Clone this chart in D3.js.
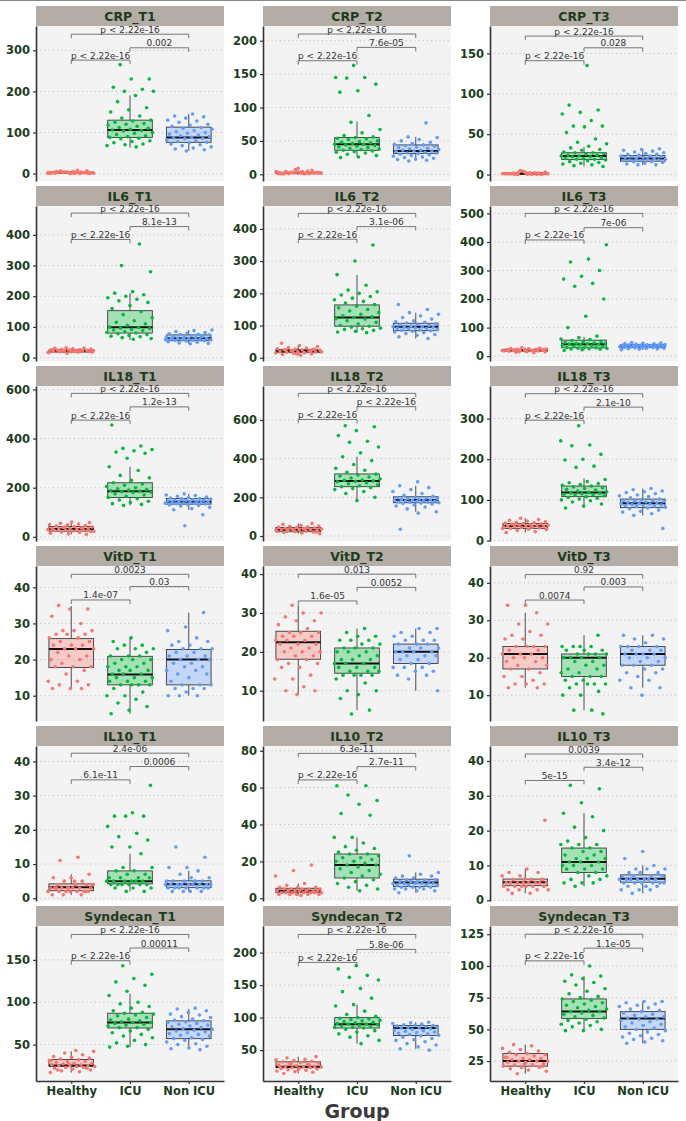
<!DOCTYPE html>
<html><head><meta charset="utf-8">
<script src="https://cdn.jsdelivr.net/npm/d3@7"></script>
<style>body{margin:0;background:#fff}svg{display:block}</style>
</head><body>
<script>
const panelNames = ["CRP_T1","CRP_T2","CRP_T3","IL6_T1","IL6_T2","IL6_T3","IL18_T1","IL18_T2","IL18_T3",
  "VitD_T1","VitD_T2","VitD_T3","IL10_T1","IL10_T2","IL10_T3","Syndecan_T1","Syndecan_T2","Syndecan_T3"];
const groups = ["Healthy","ICU","Non ICU"];
const yDomains = [[-18,359],[-10,222],[-8,184],[-11,494],[-10,471],[-17,526],[-17,614],[-26,776],[-1,380],
  [3,45.9],[2.2,42.1],[3.1,44.5],[-0.8,44.5],[-1.5,82.6],[-0.2,44.3],[7,190],[2.5,241],[9.3,131.5]];
const yTicks = [[0,100,200,300],[0,50,100,150,200],[0,50,100,150],[0,100,200,300,400],[0,100,200,300,400],[0,100,200,300,400,500],
  [0,200,400,600],[0,200,400,600],[0,100,200,300],[10,20,30,40],[10,20,30,40],[10,20,30,40],
  [0,10,20,30,40],[0,20,40,60,80],[0,10,20,30,40],[50,100,150],[50,100,150,200],[25,50,75,100,125]];
// [lower whisker, q1, median, q3, upper whisker] for Healthy, ICU, Non ICU
const boxHealthy = [[0,1,2,3,6],[0,1,2,3,6],[0,0.5,1,2,4],[14,18,22,25,31],[8,16,21,26,38],[12,18,21,24,30],
  [10,23,32,42,60],[12,22,32,44,65],[20,30,36,42,55],[12,17.8,22.9,25.8,34.8],[9,18.1,22.5,25.3,32],[12,17,21,23,32],
  [1,2.2,3.2,4.2,7],[1.5,3,4,5.4,8],[2,4.2,5.2,6.1,9],[17,24.5,25.3,32.4,42],[14,23,24.5,32,40],[15,21,25,31,38]];
const boxICU = [[63,88,106,130,190],[26,36,45,55,79],[10,18.5,23,27,34],[58,80,99,153,210],[78,98,125,164,257],[20,29,42,56,67],
  [128,160,186,220,285],[183,255,285,321,410],[80,108,118,134,153],[5,13,15.9,20.9,26],[5,14.5,17,21,26],[6,15,20,21,26],
  [2,4.2,5,8,13],[4,11,18,24,33],[4,8,11,15,25],[47,69.6,76,87,110],[60,84,90,100,120],[49,58.5,64,74,92]];
const boxNonICU = [[55,76,88,113,145],[20,31,35,44,56],[12,16.5,20,23.5,32],[45,55,63,74,90],[60,84,96,107,140],[22,30,35,40,48],
  [110,133,143,156,175],[125,172,186,203,260],[62,81,92,102,128],[10,13,20,22.8,33],[10,17,20,22,26],[12,18,21,23,26],
  [2,3.1,4.1,5.1,8],[3,6.3,8.5,10.3,14],[2,5.2,6.2,7.3,10],[45,57,68,78,92],[52,72.5,84,88,93],[39,50,58.5,64,72]];
const ptsHealthy = [
 [1,2,3,1,0,2,4,3,2,1,5,2,3,1,2,6,0,1,3,2,4,1,2,3,7,2,1,0,3,2,5,1,2,4,3,8],
 [1,2,3,2,1,4,2,3,1,5,2,2,3,1,6,2,4,1,3,2,9,2,1,3,2,4,1,2,7,3,2,1,3,2],
 [0,1,2,1,0,3,1,2,1,0,4,1,2,1,3,0,1,2,5,1,0,2,1,3,1,2,0,1,2,1],
 [14,16,18,19,20,21,21,22,22,23,23,24,24,25,25,26,27,28,29,30,31,32,17,19,20,22,24,26,21,23,18,20],
 [8,10,12,14,15,16,17,18,19,20,21,22,23,24,25,26,27,28,30,32,35,38,45,20,22,18,16,24,26,12],
 [12,14,15,16,17,18,19,20,20,21,21,22,22,23,24,25,26,27,28,30,18,20,22,24,19,21,23,16],
 [10,12,15,18,20,22,24,25,26,28,30,31,32,33,34,35,36,38,40,42,44,46,48,50,52,55,58,60,28,36,40,22],
 [12,15,18,20,22,24,26,28,30,32,33,34,35,36,38,40,42,44,46,48,50,52,55,60,65,28,30,38,25,20],
 [20,22,25,27,28,30,31,32,33,34,35,35,36,36,37,38,38,39,40,41,42,43,44,45,46,48,50,52,55,30,33,40],
 [35,34,34,32,30,28,28,28,27,27,27,26,26,25,25,24,24,24,23,23,23,22,21,21,20,20,19,18,18,18,17,16,14,14,13,13,12,12,12],
 [32,30,30,29,28,28,27,26,25,25,25,24,24,24,23,23,23,22,22,22,21,21,20,20,20,19,19,18,18,17,17,16,16,14,13,13,11,10,10,9],
 [34,34,32,29,29,27,26,26,25,25,23,23,23,23,22,22,21,21,21,20,20,20,19,19,18,18,17,17,16,15,15,14,13,13,13,12,12],
 [12,11,7,6,6,5,5,4,4,4,4,3,3,3,3,3,3,3,2,2,2,2,2,2,2,1,1,1,4,5,3,2,3],
 [18,15,12,8,7,6,6,6,5,5,5,5,5,4,4,4,4,4,4,4,3,3,3,3,3,3,3,2,2,2,2,2,1.5],
 [23,9,8,8,7,7,6,6,6,6,5,5,5,5,5,5,5,4,4,4,4,4,4,3,3,3,3,2,2,6,5],
 [17,18,19,20,21,22,23,23,24,24,25,25,25,26,26,27,28,28,29,30,30,31,32,33,34,35,36,38,40,42,43,20,22,27,31],
 [14,16,17,18,19,20,21,22,22,23,23,24,24,25,25,26,27,28,29,30,31,32,33,34,35,36,38,40,20,24,27,29],
 [15,17,18,19,20,20,21,22,22,23,24,24,25,25,25,26,26,27,27,28,29,30,30,31,32,33,34,35,37,38,21,23,28]];
const ptsICU = [
 [265,230,230,210,205,200,200,190,175,160,155,150,140,135,130,128,125,122,120,118,115,112,110,108,106,105,104,100,98,95,92,90,88,86,85,80,78,75,72,70,68,65],
 [163,145,145,144,135,125,123,88,78,67,62,58,56,55,54,53,52,50,49,48,47,46,45,45,44,43,42,41,40,39,38,37,36,35,34,33,32,30,28,26,25],
 [135,86,80,77,75,67,60,60,59,52,44,40,38,35,33,31,30,28,27,27,26,25,24,24,23,23,22,22,21,20,20,19,19,18,17,16,15,14,13,12,11,10],
 [370,300,280,215,210,205,200,195,190,185,180,170,160,150,140,130,120,115,110,105,100,98,96,95,92,90,88,85,82,80,78,75,72,70,68,65,62,60],
 [350,300,258,225,210,205,200,195,190,185,180,175,170,165,160,155,150,145,140,135,130,127,125,122,120,115,110,105,100,98,95,92,90,88,85,82,80,78],
 [390,340,330,300,280,270,255,245,200,140,100,70,65,60,58,55,52,50,48,46,45,44,43,42,41,40,38,36,35,34,32,30,29,28,27,26,25,24,22,20],
 [455,370,360,355,350,345,340,320,285,270,250,240,230,220,215,210,205,200,195,192,190,188,186,184,182,180,175,170,165,160,155,150,145,140,135,132,128],
 [570,565,545,520,490,485,460,430,410,390,370,350,340,330,320,315,310,305,300,295,290,288,285,282,280,275,270,265,260,255,250,245,240,230,220,200,183],
 [282,245,235,233,212,200,198,183,180,150,145,142,140,138,136,134,132,130,128,126,124,122,120,118,117,116,115,114,113,112,110,108,106,104,102,100,98,95,90,85,80],
 [26,25,24,24,23,23,23,22,21,21,21,20,20,20,19,19,18,18,18,17,17,17,16,16,16,15,15,15,14,14,14,13,13,13,13,12,11,10,10,9,8,7,6,5],
 [26,25,24,24,23,23,23,22,22,21,21,21,20,20,20,19,19,18,18,18,17,17,17,16,16,16,15,15,15,14,14,14,14,13,12,10,10,9,8,5,4],
 [26,23,23,23,23,22,22,22,21,21,21,21,20,20,20,20,19,19,18,18,17,17,16,16,15,15,15,14,14,13,13,13,13,12,11,10,10,6,6,5],
 [33,25,24,24,24,21,19,18,17,15,15,13,9,9,8,8,7,7,6,6,6,6,5,5,5,5,5,5,4,4,4,4,4,4,3,3,3,2,2],
 [61,61,56,53,51,46,45,33,33,30,28,27,26,25,24,24,23,22,22,21,20,20,19,18,18,17,16,15,14,13,12,11,10,9,8,7,6,5,4],
 [33,32,28,25,24,21,20,18,17,16,16,16,15,15,14,14,13,13,12,12,12,11,11,11,10,10,10,9,9,9,8,8,7,7,6,6,5,5,5,4],
 [143,133,128,124,120,113,108,100,98,95,93,90,88,87,86,85,84,82,80,79,78,77,76,76,75,74,73,72,70,70,68,66,64,62,60,58,55,52,50,48,47],
 [180,175,165,162,158,145,140,130,120,118,110,105,102,100,99,98,97,96,95,94,93,92,91,90,90,89,88,87,86,85,85,84,82,80,78,75,72,70,65,60],
 [100,93,92,90,88,87,85,82,80,78,76,75,74,73,72,71,70,69,68,67,66,65,64,64,63,62,61,60,59,58,57,56,55,54,53,52,50,49,49]];
const ptsNonICU = [
 [145,140,138,135,130,128,125,120,118,115,112,110,108,105,102,100,98,96,94,92,90,88,87,86,85,82,80,78,76,75,72,70,68,65,62,60,58,55],
 [77,56,55,52,50,48,46,45,44,43,42,41,40,39,38,37,36,36,35,35,34,33,32,32,31,30,29,28,27,26,25,24,23,22,21,20],
 [32,31,30,29,28,27,26,25,25,24,23,23,22,22,21,21,20,20,19,19,18,18,17,17,16,16,15,14,13,12,12],
 [90,88,85,82,80,78,76,75,74,72,70,68,67,66,65,64,63,62,61,60,59,58,57,56,55,54,52,50,48,46,45,65,70,62,58],
 [165,150,140,135,130,125,120,115,112,110,108,106,104,102,100,98,97,96,95,94,93,92,91,90,88,86,85,84,82,80,78,75,72,70,65,60],
 [48,46,45,44,43,42,41,40,40,39,38,38,37,36,36,35,35,34,34,33,33,32,32,31,30,30,29,28,27,26,25,24,22],
 [175,170,168,165,162,160,158,156,155,154,152,150,149,148,146,145,144,143,142,141,140,138,137,136,135,134,132,130,128,125,120,115,110,90,45],
 [280,260,250,240,230,220,210,205,200,198,196,194,192,190,188,186,185,184,183,182,180,178,176,175,174,172,170,168,165,160,155,150,140,125,118,35],
 [128,125,122,120,118,115,112,110,108,105,102,100,99,98,97,96,95,94,93,92,91,90,89,88,87,86,85,84,82,80,78,75,72,70,66,62,30],
 [33,29,28,26,25,25,24,24,23,23,23,22,22,21,21,21,20,20,20,19,19,18,18,17,17,16,16,15,14,13,13,13,12,12,12,11,10,10,10],
 [26,26,25,25,24,24,23,23,23,22,22,22,21,21,21,20,20,20,20,19,19,19,18,18,17,17,16,16,16,15,15,14,14,13,10],
 [26,26,25,25,24,23,23,23,23,22,22,22,21,21,21,21,20,20,20,19,19,18,18,18,17,17,16,16,15,14,14,12,12,10],
 [15,12,9,9,8,7,6,6,5,5,5,5,5,4,4,4,4,4,4,4,4,3,3,3,3,3,3,3,2,2,2,2,4,5],
 [23,14,13,12,12,11,11,10,10,10,9,9,9,9,8,8,8,8,8,7,7,7,7,6,6,6,6,5,5,5,4,4,3],
 [14,12,10,9,9,9,8,8,8,7,7,7,7,6,6,6,6,6,6,6,5,5,5,5,5,5,4,4,4,3,3,3,2],
 [93,92,90,88,86,85,83,82,80,79,78,77,76,75,74,73,72,71,70,69,68,67,66,65,64,63,62,61,60,58,57,56,55,53,51,50,48,46,45,44],
 [93,92,91,90,89,88,88,87,86,85,85,84,84,83,82,81,80,79,78,77,76,75,74,73,72,70,68,66,65,63,60,58,55,52,50],
 [72,72,71,70,69,68,67,66,65,64,63,62,61,60,60,59,58,58,57,56,55,54,53,52,51,50,49,48,47,46,45,44,43,42,41,40,39]];
// bracket heights: [Healthy-ICU, ICU-Non ICU, Healthy-Non ICU]
const bracketY = [[276,306,339],[170,190,210],[141,157,171.5],[385,427,471],[368,407,448],[407,450,500],
  [475,529,584],[603,669,738],[296,328,361],[36.5,40.2,43.6],[33.1,36.6,40],[35.4,38.9,42.2],
  [34.6,38.5,42.4],[64.2,71.4,78.6],[34.4,38.2,42],[149,164,180],[185,205,228],[104,114,125]];
const P = "p < 2.22e-16";
const bracketLabels = [[P,"0.002",P],[P,"7.6e-05",P],[P,"0.028",P],[P,"8.1e-13",P],[P,"3.1e-06",P],[P,"7e-06",P],
  [P,"1.2e-13",P],[P,P,P],[P,"2.1e-10",P],["1.4e-07","0.03","0.0023"],["1.6e-05","0.0052","0.013"],["0.0074","0.003","0.92"],
  ["6.1e-11","0.0006","2.4e-06"],[P,"2.7e-11","6.3e-11"],["5e-15","3.4e-12","0.0039"],[P,"0.00011",P],[P,"5.8e-06",P],[P,"1.1e-05",P]];
const xTitle = "Group";

const colors = ["#F8766D","#00BA38","#619CFF"];
const W = 686, H = 1121;
const colX = [36, 263, 490], panelW = 188;
const rowTop0 = 6, rowStep = 180, stripH = 20, panelH = 155;
const txtCol = "#1b3d1b";

const svg = d3.select("body").append("svg").attr("width", W).attr("height", H)
  .style("font-family", "'DejaVu Sans', sans-serif");
svg.append("rect").attr("width", W).attr("height", H).attr("fill", "#fff");
svg.append("line").attr("x1",0).attr("x2",W).attr("y1",0.5).attr("y2",0.5).attr("stroke","#888").attr("stroke-width",1);

const boxes = [boxHealthy, boxICU, boxNonICU];
const pts = [ptsHealthy, ptsICU, ptsNonICU];

panelNames.forEach((name, i) => {
  const col = i % 3, row = Math.floor(i / 3);
  const x0 = colX[col];
  const sTop = rowTop0 + row * rowStep;
  const pTop = sTop + stripH, pBot = pTop + panelH;
  const g = svg.append("g");
  const x = d3.scalePoint().domain(groups).range([x0, x0 + panelW]).padding(0.6);
  const y = d3.scaleLinear().domain(yDomains[i]).range([pBot, pTop]);
  const step = x.step();
  const bw = step * 0.76;

  // strip
  g.append("rect").attr("x", x0).attr("y", sTop).attr("width", panelW).attr("height", stripH).attr("fill", "#b4aca6");
  g.append("text").attr("x", x0 + panelW / 2).attr("y", sTop + stripH / 2 + 4.5).attr("text-anchor", "middle")
    .attr("font-weight", "bold").attr("font-size", 12.5).attr("fill", txtCol).text(name);
  // panel bg
  g.append("rect").attr("x", x0).attr("y", pTop).attr("width", panelW).attr("height", panelH).attr("fill", "#f3f3f3");
  // grid
  g.selectAll(".grid").data(yTicks[i]).join("line")
    .attr("x1", x0).attr("x2", x0 + panelW).attr("y1", d => y(d)).attr("y2", d => y(d))
    .attr("stroke", "#bcbcbc").attr("stroke-width", 0.9).attr("stroke-dasharray", "1.2,3");

  // boxes
  groups.forEach((grp, k) => {
    const [lo, q1, md, q3, hi] = boxes[k][i];
    const cx = x(grp);
    const bg = g.append("g");
    bg.append("line").attr("x1", cx).attr("x2", cx).attr("y1", y(hi)).attr("y2", y(q3)).attr("stroke", "#3a3a3a").attr("stroke-width", 0.9);
    bg.append("line").attr("x1", cx).attr("x2", cx).attr("y1", y(q1)).attr("y2", y(lo)).attr("stroke", "#3a3a3a").attr("stroke-width", 0.9);
    bg.append("rect").attr("x", cx - bw / 2).attr("y", y(q3)).attr("width", bw).attr("height", Math.max(0.5, y(q1) - y(q3)))
      .attr("fill", colors[k]).attr("fill-opacity", 0.32).attr("stroke", "#3a3a3a").attr("stroke-width", 0.9);
    bg.append("line").attr("x1", cx - bw / 2).attr("x2", cx + bw / 2).attr("y1", y(md)).attr("y2", y(md))
      .attr("stroke", "#111").attr("stroke-width", 2);
  });
  // points (jittered horizontally, deterministic offsets)
  groups.forEach((grp, k) => {
    const cx = x(grp);
    const vals = pts[k][i];
    g.append("g").selectAll("circle").data(vals).join("circle")
      .attr("cx", (d, j) => cx + (((j * 0.6180339887 + i * 0.137 + k * 0.291) % 1) - 0.5) * 0.8 * step)
      .attr("cy", d => y(d)).attr("r", 1.8).attr("fill", colors[k]);
  });

  // brackets
  const pairs = [[0,1],[1,2],[0,2]];
  pairs.forEach((pr, b) => {
    const xa = x(groups[pr[0]]), xb = x(groups[pr[1]]);
    const yy = y(bracketY[i][b]);
    g.append("path").attr("d", `M${xa},${yy + 4}V${yy}H${xb}V${yy + 4}`)
      .attr("fill", "none").attr("stroke", "#555").attr("stroke-width", 0.8);
    g.append("text").attr("x", (xa + xb) / 2).attr("y", yy - 1.5).attr("text-anchor", "middle")
      .attr("font-size", 9).attr("fill", "#333").text(bracketLabels[i][b]);
  });

  // y axis
  const ya = g.append("g").attr("transform", `translate(${x0},0)`)
    .call(d3.axisLeft(y).tickValues(yTicks[i]).tickSize(3).tickSizeOuter(0).tickPadding(3));
  ya.select(".domain").attr("stroke", "#333").attr("stroke-width", 1.6);
  ya.selectAll(".tick line").attr("stroke", "#333").attr("stroke-width", 1.2);
  ya.selectAll(".tick text").attr("font-family", "'DejaVu Sans', sans-serif").attr("font-weight", "bold")
    .attr("font-size", 11.5).attr("fill", txtCol);

  // x axis on bottom row
  if (row === 5) {
    const xa = g.append("g").attr("transform", `translate(0,${pBot})`)
      .call(d3.axisBottom(x).tickSize(3).tickSizeOuter(0).tickPadding(3));
    xa.select(".domain").attr("stroke", "#333").attr("stroke-width", 1.6);
    xa.selectAll(".tick line").attr("stroke", "#333").attr("stroke-width", 1.2);
    xa.selectAll(".tick text").attr("font-family", "'DejaVu Sans', sans-serif").attr("font-weight", "bold")
      .attr("font-size", 11.5).attr("fill", txtCol);
  }
});

svg.append("text").attr("x", (colX[0] + colX[2] + panelW) / 2).attr("y", 1118).attr("text-anchor", "middle")
  .attr("font-weight", "bold").attr("font-size", 19).attr("fill", "#3a3a3a").text(xTitle);
</script>
</body></html>
